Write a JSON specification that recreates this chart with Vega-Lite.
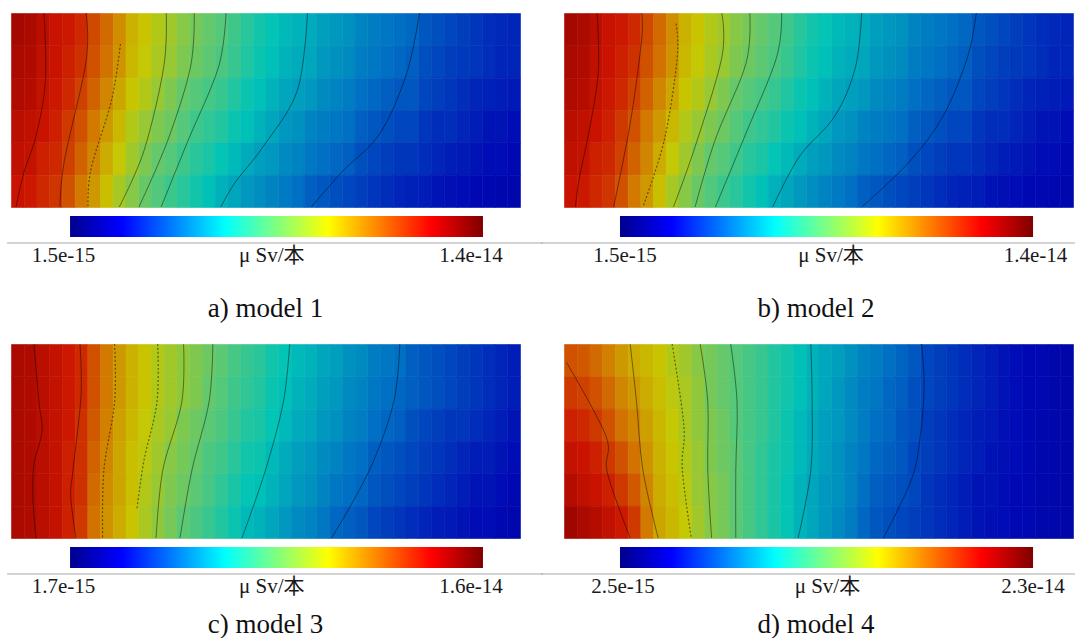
{"$schema":"https://vega.github.io/schema/vega-lite/v6.json","padding":{"left":6,"top":11,"right":0,"bottom":0},"bounds":"flush","columns":2,"spacing":{"row":137,"column":44},"config":{"view":{"stroke":null}},
"datasets":{
"labels":[{"p":"a","lo":"1.5e-15","u":"μ Sv/本","hi":"1.4e-14","cap":"a) model 1"},{"p":"b","lo":"1.5e-15","u":"μ Sv/本","hi":"1.4e-14","cap":"b) model 2"},{"p":"c","lo":"1.7e-15","u":"μ Sv/本","hi":"1.6e-14","cap":"c) model 3"},{"p":"d","lo":"2.5e-15","u":"μ Sv/本","hi":"2.3e-14","cap":"d) model 4"}],
"la":[{"l":1,"x":2.6,"y":0},{"l":1,"x":2.7,"y":2.1},{"l":1,"x":2.0,"y":3.75},{"l":1,"x":1.0,"y":4.95},{"l":1,"x":0.4,"y":6},
{"l":2,"x":5.9,"y":0},{"l":2,"x":5.9,"y":1.5},{"l":2,"x":4.2,"y":4.56},{"l":2,"x":3.85,"y":6},
{"l":3,"x":8.6,"y":0.96},{"l":3,"x":7.9,"y":2.7},{"l":3,"x":6.3,"y":4.8},{"l":3,"x":6.05,"y":6},
{"l":4,"x":12.2,"y":0},{"l":4,"x":12.0,"y":1.68},{"l":4,"x":10.45,"y":4.26},{"l":4,"x":8.5,"y":6},
{"l":5,"x":14.4,"y":0},{"l":5,"x":14.1,"y":1.68},{"l":5,"x":12.3,"y":3.96},{"l":5,"x":10.05,"y":6},
{"l":6,"x":16.9,"y":0},{"l":6,"x":16.3,"y":1.68},{"l":6,"x":13.9,"y":3.96},{"l":6,"x":11.8,"y":6},
{"l":7,"x":23.3,"y":0},{"l":7,"x":22.5,"y":2.4},{"l":7,"x":19.8,"y":4.14},{"l":7,"x":17.6,"y":5.25},{"l":7,"x":16.5,"y":6},
{"l":8,"x":32.1,"y":0},{"l":8,"x":31.1,"y":1.86},{"l":8,"x":29.0,"y":3.72},{"l":8,"x":26.0,"y":4.92},{"l":8,"x":23.6,"y":6}],
"lb":[{"l":1,"x":2.6,"y":0},{"l":1,"x":2.7,"y":1.8},{"l":1,"x":2.0,"y":3.6},{"l":1,"x":1.2,"y":5.1},{"l":1,"x":0.9,"y":6},
{"l":2,"x":6.1,"y":0},{"l":2,"x":6.1,"y":0.84},{"l":2,"x":5.2,"y":3.42},{"l":2,"x":3.9,"y":6},
{"l":3,"x":8.8,"y":0.33},{"l":3,"x":8.9,"y":1.38},{"l":3,"x":7.9,"y":3.9},{"l":3,"x":6.2,"y":6},
{"l":4,"x":12.4,"y":0},{"l":4,"x":12.4,"y":1.38},{"l":4,"x":10.3,"y":4.14},{"l":4,"x":8.6,"y":6},
{"l":5,"x":14.6,"y":0},{"l":5,"x":14.3,"y":1.56},{"l":5,"x":11.9,"y":3.9},{"l":5,"x":10.3,"y":6},
{"l":6,"x":17.1,"y":0},{"l":6,"x":16.7,"y":1.38},{"l":6,"x":14.3,"y":3.72},{"l":6,"x":11.9,"y":6},
{"l":7,"x":23.4,"y":0},{"l":7,"x":22.9,"y":1.68},{"l":7,"x":21.3,"y":3.18},{"l":7,"x":18.5,"y":4.44},{"l":7,"x":16.4,"y":6},
{"l":8,"x":32.4,"y":0},{"l":8,"x":31.7,"y":1.38},{"l":8,"x":29.8,"y":3.18},{"l":8,"x":27.1,"y":4.62},{"l":8,"x":23.4,"y":6}],
"lc":[{"l":1,"x":1.8,"y":0},{"l":1,"x":2.2,"y":1.8},{"l":1,"x":2.44,"y":2.7},{"l":1,"x":1.8,"y":3.72},{"l":1,"x":1.73,"y":4.8},{"l":1,"x":1.96,"y":6},
{"l":2,"x":5.42,"y":0},{"l":2,"x":5.5,"y":1.62},{"l":2,"x":4.87,"y":3.9},{"l":2,"x":4.7,"y":4.74},{"l":2,"x":5.1,"y":6},
{"l":3,"x":8.14,"y":0},{"l":3,"x":8.14,"y":1.8},{"l":3,"x":7.3,"y":3.9},{"l":3,"x":7.2,"y":6},
{"l":4,"x":11.53,"y":0},{"l":4,"x":11.47,"y":1.8},{"l":4,"x":10.45,"y":3.6},{"l":4,"x":9.9,"y":5.1},
{"l":5,"x":13.56,"y":0},{"l":5,"x":13.42,"y":1.8},{"l":5,"x":11.93,"y":3.9},{"l":5,"x":11.4,"y":6},
{"l":6,"x":15.86,"y":0},{"l":6,"x":15.56,"y":1.8},{"l":6,"x":14.22,"y":3.9},{"l":6,"x":13.28,"y":6},
{"l":7,"x":21.9,"y":0},{"l":7,"x":21.4,"y":1.8},{"l":7,"x":20.0,"y":3.9},{"l":7,"x":18.15,"y":6},
{"l":8,"x":30.55,"y":0},{"l":8,"x":30.07,"y":1.8},{"l":8,"x":28.17,"y":3.9},{"l":8,"x":25.2,"y":6}],
"ld":[{"l":1,"x":0.2,"y":0.57},{"l":1,"x":3.3,"y":2.85},{"l":1,"x":3.4,"y":3.975},{"l":1,"x":5.2,"y":6},
{"l":2,"x":5.2,"y":0},{"l":2,"x":5.7,"y":1.8},{"l":2,"x":6.2,"y":3.9},{"l":2,"x":7.4,"y":6},
{"l":3,"x":8.5,"y":0},{"l":3,"x":9.2,"y":1.8},{"l":3,"x":9.45,"y":2.82},{"l":3,"x":9.3,"y":3.9},{"l":3,"x":10.0,"y":6},
{"l":4,"x":10.7,"y":0},{"l":4,"x":11.3,"y":1.8},{"l":4,"x":11.3,"y":3.9},{"l":4,"x":11.6,"y":6},
{"l":5,"x":13.1,"y":0},{"l":5,"x":13.6,"y":1.8},{"l":5,"x":13.5,"y":3.9},{"l":5,"x":13.5,"y":6},
{"l":6,"x":19.4,"y":0},{"l":6,"x":19.5,"y":1.8},{"l":6,"x":19.4,"y":3.9},{"l":6,"x":18.4,"y":6},
{"l":7,"x":28.1,"y":0},{"l":7,"x":28.3,"y":1.29},{"l":7,"x":28.0,"y":2.85},{"l":7,"x":27.3,"y":4.2},{"l":7,"x":25.1,"y":6}],
"ca":[
{"i":0,"j":0,"t":0.95},{"i":0,"j":1,"t":0.94},{"i":0,"j":2,"t":0.93},{"i":0,"j":3,"t":0.91},{"i":0,"j":4,"t":0.9},{"i":0,"j":5,"t":0.88},
{"i":1,"j":0,"t":0.94},{"i":1,"j":1,"t":0.93},{"i":1,"j":2,"t":0.92},{"i":1,"j":3,"t":0.9},{"i":1,"j":4,"t":0.89},{"i":1,"j":5,"t":0.87},
{"i":2,"j":0,"t":0.91},{"i":2,"j":1,"t":0.9},{"i":2,"j":2,"t":0.89},{"i":2,"j":3,"t":0.88},{"i":2,"j":4,"t":0.86},{"i":2,"j":5,"t":0.85},
{"i":3,"j":0,"t":0.88},{"i":3,"j":1,"t":0.88},{"i":3,"j":2,"t":0.87},{"i":3,"j":3,"t":0.86},{"i":3,"j":4,"t":0.85},{"i":3,"j":5,"t":0.835},
{"i":4,"j":0,"t":0.87},{"i":4,"j":1,"t":0.86},{"i":4,"j":2,"t":0.85},{"i":4,"j":3,"t":0.83},{"i":4,"j":4,"t":0.82},{"i":4,"j":5,"t":0.8},
{"i":5,"j":0,"t":0.85},{"i":5,"j":1,"t":0.84},{"i":5,"j":2,"t":0.82},{"i":5,"j":3,"t":0.8},{"i":5,"j":4,"t":0.78},{"i":5,"j":5,"t":0.75},
{"i":6,"j":0,"t":0.81},{"i":6,"j":1,"t":0.8},{"i":6,"j":2,"t":0.78},{"i":6,"j":3,"t":0.75},{"i":6,"j":4,"t":0.73},{"i":6,"j":5,"t":0.7},
{"i":7,"j":0,"t":0.77},{"i":7,"j":1,"t":0.76},{"i":7,"j":2,"t":0.73},{"i":7,"j":3,"t":0.7},{"i":7,"j":4,"t":0.67},{"i":7,"j":5,"t":0.64},
{"i":8,"j":0,"t":0.72},{"i":8,"j":1,"t":0.71},{"i":8,"j":2,"t":0.68},{"i":8,"j":3,"t":0.65},{"i":8,"j":4,"t":0.62},{"i":8,"j":5,"t":0.585},
{"i":9,"j":0,"t":0.66},{"i":9,"j":1,"t":0.65},{"i":9,"j":2,"t":0.63},{"i":9,"j":3,"t":0.6},{"i":9,"j":4,"t":0.58},{"i":9,"j":5,"t":0.55},
{"i":10,"j":0,"t":0.63},{"i":10,"j":1,"t":0.62},{"i":10,"j":2,"t":0.6},{"i":10,"j":3,"t":0.57},{"i":10,"j":4,"t":0.54},{"i":10,"j":5,"t":0.515},
{"i":11,"j":0,"t":0.6},{"i":11,"j":1,"t":0.59},{"i":11,"j":2,"t":0.57},{"i":11,"j":3,"t":0.54},{"i":11,"j":4,"t":0.51},{"i":11,"j":5,"t":0.485},
{"i":12,"j":0,"t":0.58},{"i":12,"j":1,"t":0.57},{"i":12,"j":2,"t":0.54},{"i":12,"j":3,"t":0.52},{"i":12,"j":4,"t":0.49},{"i":12,"j":5,"t":0.455},
{"i":13,"j":0,"t":0.55},{"i":13,"j":1,"t":0.54},{"i":13,"j":2,"t":0.51},{"i":13,"j":3,"t":0.49},{"i":13,"j":4,"t":0.46},{"i":13,"j":5,"t":0.43},
{"i":14,"j":0,"t":0.53},{"i":14,"j":1,"t":0.52},{"i":14,"j":2,"t":0.49},{"i":14,"j":3,"t":0.46},{"i":14,"j":4,"t":0.43},{"i":14,"j":5,"t":0.4},
{"i":15,"j":0,"t":0.51},{"i":15,"j":1,"t":0.5},{"i":15,"j":2,"t":0.47},{"i":15,"j":3,"t":0.44},{"i":15,"j":4,"t":0.41},{"i":15,"j":5,"t":0.37},
{"i":16,"j":0,"t":0.49},{"i":16,"j":1,"t":0.48},{"i":16,"j":2,"t":0.45},{"i":16,"j":3,"t":0.42},{"i":16,"j":4,"t":0.38},{"i":16,"j":5,"t":0.345},
{"i":17,"j":0,"t":0.46},{"i":17,"j":1,"t":0.45},{"i":17,"j":2,"t":0.42},{"i":17,"j":3,"t":0.39},{"i":17,"j":4,"t":0.36},{"i":17,"j":5,"t":0.33},
{"i":18,"j":0,"t":0.43},{"i":18,"j":1,"t":0.42},{"i":18,"j":2,"t":0.39},{"i":18,"j":3,"t":0.37},{"i":18,"j":4,"t":0.34},{"i":18,"j":5,"t":0.31},
{"i":19,"j":0,"t":0.4},{"i":19,"j":1,"t":0.39},{"i":19,"j":2,"t":0.37},{"i":19,"j":3,"t":0.35},{"i":19,"j":4,"t":0.32},{"i":19,"j":5,"t":0.295},
{"i":20,"j":0,"t":0.38},{"i":20,"j":1,"t":0.37},{"i":20,"j":2,"t":0.35},{"i":20,"j":3,"t":0.33},{"i":20,"j":4,"t":0.31},{"i":20,"j":5,"t":0.28},
{"i":21,"j":0,"t":0.36},{"i":21,"j":1,"t":0.35},{"i":21,"j":2,"t":0.33},{"i":21,"j":3,"t":0.31},{"i":21,"j":4,"t":0.29},{"i":21,"j":5,"t":0.265},
{"i":22,"j":0,"t":0.35},{"i":22,"j":1,"t":0.34},{"i":22,"j":2,"t":0.32},{"i":22,"j":3,"t":0.3},{"i":22,"j":4,"t":0.28},{"i":22,"j":5,"t":0.25},
{"i":23,"j":0,"t":0.34},{"i":23,"j":1,"t":0.33},{"i":23,"j":2,"t":0.31},{"i":23,"j":3,"t":0.28},{"i":23,"j":4,"t":0.26},{"i":23,"j":5,"t":0.23},
{"i":24,"j":0,"t":0.32},{"i":24,"j":1,"t":0.31},{"i":24,"j":2,"t":0.29},{"i":24,"j":3,"t":0.27},{"i":24,"j":4,"t":0.25},{"i":24,"j":5,"t":0.22},
{"i":25,"j":0,"t":0.31},{"i":25,"j":1,"t":0.3},{"i":25,"j":2,"t":0.28},{"i":25,"j":3,"t":0.26},{"i":25,"j":4,"t":0.24},{"i":25,"j":5,"t":0.21},
{"i":26,"j":0,"t":0.3},{"i":26,"j":1,"t":0.29},{"i":26,"j":2,"t":0.27},{"i":26,"j":3,"t":0.25},{"i":26,"j":4,"t":0.23},{"i":26,"j":5,"t":0.2},
{"i":27,"j":0,"t":0.28},{"i":27,"j":1,"t":0.27},{"i":27,"j":2,"t":0.25},{"i":27,"j":3,"t":0.23},{"i":27,"j":4,"t":0.21},{"i":27,"j":5,"t":0.19},
{"i":28,"j":0,"t":0.27},{"i":28,"j":1,"t":0.26},{"i":28,"j":2,"t":0.24},{"i":28,"j":3,"t":0.22},{"i":28,"j":4,"t":0.2},{"i":28,"j":5,"t":0.18},
{"i":29,"j":0,"t":0.26},{"i":29,"j":1,"t":0.25},{"i":29,"j":2,"t":0.23},{"i":29,"j":3,"t":0.21},{"i":29,"j":4,"t":0.19},{"i":29,"j":5,"t":0.17},
{"i":30,"j":0,"t":0.25},{"i":30,"j":1,"t":0.24},{"i":30,"j":2,"t":0.22},{"i":30,"j":3,"t":0.2},{"i":30,"j":4,"t":0.18},{"i":30,"j":5,"t":0.16},
{"i":31,"j":0,"t":0.24},{"i":31,"j":1,"t":0.23},{"i":31,"j":2,"t":0.22},{"i":31,"j":3,"t":0.2},{"i":31,"j":4,"t":0.18},{"i":31,"j":5,"t":0.155},
{"i":32,"j":0,"t":0.22},{"i":32,"j":1,"t":0.21},{"i":32,"j":2,"t":0.2},{"i":32,"j":3,"t":0.18},{"i":32,"j":4,"t":0.17},{"i":32,"j":5,"t":0.15},
{"i":33,"j":0,"t":0.21},{"i":33,"j":1,"t":0.2},{"i":33,"j":2,"t":0.19},{"i":33,"j":3,"t":0.17},{"i":33,"j":4,"t":0.16},{"i":33,"j":5,"t":0.14},
{"i":34,"j":0,"t":0.2},{"i":34,"j":1,"t":0.19},{"i":34,"j":2,"t":0.18},{"i":34,"j":3,"t":0.17},{"i":34,"j":4,"t":0.15},{"i":34,"j":5,"t":0.135},
{"i":35,"j":0,"t":0.19},{"i":35,"j":1,"t":0.185},{"i":35,"j":2,"t":0.17},{"i":35,"j":3,"t":0.16},{"i":35,"j":4,"t":0.145},{"i":35,"j":5,"t":0.13},
{"i":36,"j":0,"t":0.18},{"i":36,"j":1,"t":0.18},{"i":36,"j":2,"t":0.16},{"i":36,"j":3,"t":0.15},{"i":36,"j":4,"t":0.14},{"i":36,"j":5,"t":0.125},
{"i":37,"j":0,"t":0.17},{"i":37,"j":1,"t":0.17},{"i":37,"j":2,"t":0.155},{"i":37,"j":3,"t":0.14},{"i":37,"j":4,"t":0.13},{"i":37,"j":5,"t":0.12},
{"i":38,"j":0,"t":0.165},{"i":38,"j":1,"t":0.16},{"i":38,"j":2,"t":0.15},{"i":38,"j":3,"t":0.14},{"i":38,"j":4,"t":0.13},{"i":38,"j":5,"t":0.115},
{"i":39,"j":0,"t":0.16},{"i":39,"j":1,"t":0.16},{"i":39,"j":2,"t":0.145},{"i":39,"j":3,"t":0.13},{"i":39,"j":4,"t":0.12},{"i":39,"j":5,"t":0.11}],
"cb":[
{"i":0,"j":0,"t":0.95},{"i":0,"j":1,"t":0.94},{"i":0,"j":2,"t":0.93},{"i":0,"j":3,"t":0.91},{"i":0,"j":4,"t":0.9},{"i":0,"j":5,"t":0.88},
{"i":1,"j":0,"t":0.94},{"i":1,"j":1,"t":0.93},{"i":1,"j":2,"t":0.92},{"i":1,"j":3,"t":0.9},{"i":1,"j":4,"t":0.89},{"i":1,"j":5,"t":0.87},
{"i":2,"j":0,"t":0.91},{"i":2,"j":1,"t":0.9},{"i":2,"j":2,"t":0.89},{"i":2,"j":3,"t":0.88},{"i":2,"j":4,"t":0.86},{"i":2,"j":5,"t":0.85},
{"i":3,"j":0,"t":0.88},{"i":3,"j":1,"t":0.88},{"i":3,"j":2,"t":0.87},{"i":3,"j":3,"t":0.86},{"i":3,"j":4,"t":0.85},{"i":3,"j":5,"t":0.835},
{"i":4,"j":0,"t":0.87},{"i":4,"j":1,"t":0.86},{"i":4,"j":2,"t":0.85},{"i":4,"j":3,"t":0.83},{"i":4,"j":4,"t":0.82},{"i":4,"j":5,"t":0.8},
{"i":5,"j":0,"t":0.85},{"i":5,"j":1,"t":0.84},{"i":5,"j":2,"t":0.82},{"i":5,"j":3,"t":0.8},{"i":5,"j":4,"t":0.78},{"i":5,"j":5,"t":0.75},
{"i":6,"j":0,"t":0.81},{"i":6,"j":1,"t":0.8},{"i":6,"j":2,"t":0.78},{"i":6,"j":3,"t":0.75},{"i":6,"j":4,"t":0.73},{"i":6,"j":5,"t":0.7},
{"i":7,"j":0,"t":0.77},{"i":7,"j":1,"t":0.76},{"i":7,"j":2,"t":0.73},{"i":7,"j":3,"t":0.7},{"i":7,"j":4,"t":0.67},{"i":7,"j":5,"t":0.64},
{"i":8,"j":0,"t":0.72},{"i":8,"j":1,"t":0.71},{"i":8,"j":2,"t":0.68},{"i":8,"j":3,"t":0.65},{"i":8,"j":4,"t":0.62},{"i":8,"j":5,"t":0.585},
{"i":9,"j":0,"t":0.66},{"i":9,"j":1,"t":0.65},{"i":9,"j":2,"t":0.63},{"i":9,"j":3,"t":0.6},{"i":9,"j":4,"t":0.58},{"i":9,"j":5,"t":0.55},
{"i":10,"j":0,"t":0.63},{"i":10,"j":1,"t":0.62},{"i":10,"j":2,"t":0.6},{"i":10,"j":3,"t":0.57},{"i":10,"j":4,"t":0.54},{"i":10,"j":5,"t":0.515},
{"i":11,"j":0,"t":0.6},{"i":11,"j":1,"t":0.59},{"i":11,"j":2,"t":0.57},{"i":11,"j":3,"t":0.54},{"i":11,"j":4,"t":0.51},{"i":11,"j":5,"t":0.485},
{"i":12,"j":0,"t":0.58},{"i":12,"j":1,"t":0.57},{"i":12,"j":2,"t":0.54},{"i":12,"j":3,"t":0.52},{"i":12,"j":4,"t":0.49},{"i":12,"j":5,"t":0.455},
{"i":13,"j":0,"t":0.55},{"i":13,"j":1,"t":0.54},{"i":13,"j":2,"t":0.51},{"i":13,"j":3,"t":0.49},{"i":13,"j":4,"t":0.46},{"i":13,"j":5,"t":0.43},
{"i":14,"j":0,"t":0.53},{"i":14,"j":1,"t":0.52},{"i":14,"j":2,"t":0.49},{"i":14,"j":3,"t":0.46},{"i":14,"j":4,"t":0.43},{"i":14,"j":5,"t":0.4},
{"i":15,"j":0,"t":0.51},{"i":15,"j":1,"t":0.5},{"i":15,"j":2,"t":0.47},{"i":15,"j":3,"t":0.44},{"i":15,"j":4,"t":0.41},{"i":15,"j":5,"t":0.37},
{"i":16,"j":0,"t":0.49},{"i":16,"j":1,"t":0.48},{"i":16,"j":2,"t":0.45},{"i":16,"j":3,"t":0.42},{"i":16,"j":4,"t":0.38},{"i":16,"j":5,"t":0.345},
{"i":17,"j":0,"t":0.46},{"i":17,"j":1,"t":0.45},{"i":17,"j":2,"t":0.42},{"i":17,"j":3,"t":0.39},{"i":17,"j":4,"t":0.36},{"i":17,"j":5,"t":0.33},
{"i":18,"j":0,"t":0.43},{"i":18,"j":1,"t":0.42},{"i":18,"j":2,"t":0.39},{"i":18,"j":3,"t":0.37},{"i":18,"j":4,"t":0.34},{"i":18,"j":5,"t":0.31},
{"i":19,"j":0,"t":0.4},{"i":19,"j":1,"t":0.39},{"i":19,"j":2,"t":0.37},{"i":19,"j":3,"t":0.35},{"i":19,"j":4,"t":0.32},{"i":19,"j":5,"t":0.295},
{"i":20,"j":0,"t":0.38},{"i":20,"j":1,"t":0.37},{"i":20,"j":2,"t":0.35},{"i":20,"j":3,"t":0.33},{"i":20,"j":4,"t":0.31},{"i":20,"j":5,"t":0.28},
{"i":21,"j":0,"t":0.36},{"i":21,"j":1,"t":0.35},{"i":21,"j":2,"t":0.33},{"i":21,"j":3,"t":0.31},{"i":21,"j":4,"t":0.29},{"i":21,"j":5,"t":0.265},
{"i":22,"j":0,"t":0.35},{"i":22,"j":1,"t":0.34},{"i":22,"j":2,"t":0.32},{"i":22,"j":3,"t":0.3},{"i":22,"j":4,"t":0.28},{"i":22,"j":5,"t":0.25},
{"i":23,"j":0,"t":0.34},{"i":23,"j":1,"t":0.33},{"i":23,"j":2,"t":0.31},{"i":23,"j":3,"t":0.28},{"i":23,"j":4,"t":0.26},{"i":23,"j":5,"t":0.23},
{"i":24,"j":0,"t":0.32},{"i":24,"j":1,"t":0.31},{"i":24,"j":2,"t":0.29},{"i":24,"j":3,"t":0.27},{"i":24,"j":4,"t":0.25},{"i":24,"j":5,"t":0.22},
{"i":25,"j":0,"t":0.31},{"i":25,"j":1,"t":0.3},{"i":25,"j":2,"t":0.28},{"i":25,"j":3,"t":0.26},{"i":25,"j":4,"t":0.24},{"i":25,"j":5,"t":0.21},
{"i":26,"j":0,"t":0.3},{"i":26,"j":1,"t":0.29},{"i":26,"j":2,"t":0.27},{"i":26,"j":3,"t":0.25},{"i":26,"j":4,"t":0.23},{"i":26,"j":5,"t":0.2},
{"i":27,"j":0,"t":0.28},{"i":27,"j":1,"t":0.27},{"i":27,"j":2,"t":0.25},{"i":27,"j":3,"t":0.23},{"i":27,"j":4,"t":0.21},{"i":27,"j":5,"t":0.19},
{"i":28,"j":0,"t":0.27},{"i":28,"j":1,"t":0.26},{"i":28,"j":2,"t":0.24},{"i":28,"j":3,"t":0.22},{"i":28,"j":4,"t":0.2},{"i":28,"j":5,"t":0.18},
{"i":29,"j":0,"t":0.26},{"i":29,"j":1,"t":0.25},{"i":29,"j":2,"t":0.23},{"i":29,"j":3,"t":0.21},{"i":29,"j":4,"t":0.19},{"i":29,"j":5,"t":0.17},
{"i":30,"j":0,"t":0.25},{"i":30,"j":1,"t":0.24},{"i":30,"j":2,"t":0.22},{"i":30,"j":3,"t":0.2},{"i":30,"j":4,"t":0.18},{"i":30,"j":5,"t":0.16},
{"i":31,"j":0,"t":0.24},{"i":31,"j":1,"t":0.23},{"i":31,"j":2,"t":0.22},{"i":31,"j":3,"t":0.2},{"i":31,"j":4,"t":0.18},{"i":31,"j":5,"t":0.155},
{"i":32,"j":0,"t":0.22},{"i":32,"j":1,"t":0.21},{"i":32,"j":2,"t":0.2},{"i":32,"j":3,"t":0.18},{"i":32,"j":4,"t":0.17},{"i":32,"j":5,"t":0.15},
{"i":33,"j":0,"t":0.21},{"i":33,"j":1,"t":0.2},{"i":33,"j":2,"t":0.19},{"i":33,"j":3,"t":0.17},{"i":33,"j":4,"t":0.16},{"i":33,"j":5,"t":0.14},
{"i":34,"j":0,"t":0.2},{"i":34,"j":1,"t":0.19},{"i":34,"j":2,"t":0.18},{"i":34,"j":3,"t":0.17},{"i":34,"j":4,"t":0.15},{"i":34,"j":5,"t":0.135},
{"i":35,"j":0,"t":0.19},{"i":35,"j":1,"t":0.185},{"i":35,"j":2,"t":0.17},{"i":35,"j":3,"t":0.16},{"i":35,"j":4,"t":0.145},{"i":35,"j":5,"t":0.13},
{"i":36,"j":0,"t":0.18},{"i":36,"j":1,"t":0.18},{"i":36,"j":2,"t":0.16},{"i":36,"j":3,"t":0.15},{"i":36,"j":4,"t":0.14},{"i":36,"j":5,"t":0.125},
{"i":37,"j":0,"t":0.17},{"i":37,"j":1,"t":0.17},{"i":37,"j":2,"t":0.155},{"i":37,"j":3,"t":0.14},{"i":37,"j":4,"t":0.13},{"i":37,"j":5,"t":0.12},
{"i":38,"j":0,"t":0.165},{"i":38,"j":1,"t":0.16},{"i":38,"j":2,"t":0.15},{"i":38,"j":3,"t":0.14},{"i":38,"j":4,"t":0.13},{"i":38,"j":5,"t":0.115},
{"i":39,"j":0,"t":0.16},{"i":39,"j":1,"t":0.16},{"i":39,"j":2,"t":0.145},{"i":39,"j":3,"t":0.13},{"i":39,"j":4,"t":0.12},{"i":39,"j":5,"t":0.11}],
"cc":[
{"i":0,"j":0,"t":0.94},{"i":0,"j":1,"t":0.94},{"i":0,"j":2,"t":0.94},{"i":0,"j":3,"t":0.94},{"i":0,"j":4,"t":0.94},{"i":0,"j":5,"t":0.94},
{"i":1,"j":0,"t":0.93},{"i":1,"j":1,"t":0.93},{"i":1,"j":2,"t":0.93},{"i":1,"j":3,"t":0.93},{"i":1,"j":4,"t":0.93},{"i":1,"j":5,"t":0.93},
{"i":2,"j":0,"t":0.91},{"i":2,"j":1,"t":0.91},{"i":2,"j":2,"t":0.91},{"i":2,"j":3,"t":0.91},{"i":2,"j":4,"t":0.91},{"i":2,"j":5,"t":0.91},
{"i":3,"j":0,"t":0.89},{"i":3,"j":1,"t":0.89},{"i":3,"j":2,"t":0.89},{"i":3,"j":3,"t":0.89},{"i":3,"j":4,"t":0.89},{"i":3,"j":5,"t":0.89},
{"i":4,"j":0,"t":0.87},{"i":4,"j":1,"t":0.87},{"i":4,"j":2,"t":0.87},{"i":4,"j":3,"t":0.86},{"i":4,"j":4,"t":0.86},{"i":4,"j":5,"t":0.86},
{"i":5,"j":0,"t":0.85},{"i":5,"j":1,"t":0.85},{"i":5,"j":2,"t":0.84},{"i":5,"j":3,"t":0.84},{"i":5,"j":4,"t":0.84},{"i":5,"j":5,"t":0.83},
{"i":6,"j":0,"t":0.8},{"i":6,"j":1,"t":0.8},{"i":6,"j":2,"t":0.79},{"i":6,"j":3,"t":0.78},{"i":6,"j":4,"t":0.77},{"i":6,"j":5,"t":0.76},
{"i":7,"j":0,"t":0.75},{"i":7,"j":1,"t":0.75},{"i":7,"j":2,"t":0.74},{"i":7,"j":3,"t":0.73},{"i":7,"j":4,"t":0.72},{"i":7,"j":5,"t":0.71},
{"i":8,"j":0,"t":0.7},{"i":8,"j":1,"t":0.7},{"i":8,"j":2,"t":0.69},{"i":8,"j":3,"t":0.68},{"i":8,"j":4,"t":0.68},{"i":8,"j":5,"t":0.67},
{"i":9,"j":0,"t":0.66},{"i":9,"j":1,"t":0.66},{"i":9,"j":2,"t":0.65},{"i":9,"j":3,"t":0.64},{"i":9,"j":4,"t":0.64},{"i":9,"j":5,"t":0.63},
{"i":10,"j":0,"t":0.63},{"i":10,"j":1,"t":0.63},{"i":10,"j":2,"t":0.62},{"i":10,"j":3,"t":0.61},{"i":10,"j":4,"t":0.6},{"i":10,"j":5,"t":0.59},
{"i":11,"j":0,"t":0.6},{"i":11,"j":1,"t":0.6},{"i":11,"j":2,"t":0.59},{"i":11,"j":3,"t":0.58},{"i":11,"j":4,"t":0.57},{"i":11,"j":5,"t":0.56},
{"i":12,"j":0,"t":0.58},{"i":12,"j":1,"t":0.58},{"i":12,"j":2,"t":0.57},{"i":12,"j":3,"t":0.55},{"i":12,"j":4,"t":0.54},{"i":12,"j":5,"t":0.53},
{"i":13,"j":0,"t":0.56},{"i":13,"j":1,"t":0.56},{"i":13,"j":2,"t":0.54},{"i":13,"j":3,"t":0.53},{"i":13,"j":4,"t":0.52},{"i":13,"j":5,"t":0.5},
{"i":14,"j":0,"t":0.54},{"i":14,"j":1,"t":0.54},{"i":14,"j":2,"t":0.52},{"i":14,"j":3,"t":0.51},{"i":14,"j":4,"t":0.5},{"i":14,"j":5,"t":0.48},
{"i":15,"j":0,"t":0.52},{"i":15,"j":1,"t":0.51},{"i":15,"j":2,"t":0.5},{"i":15,"j":3,"t":0.48},{"i":15,"j":4,"t":0.47},{"i":15,"j":5,"t":0.45},
{"i":16,"j":0,"t":0.5},{"i":16,"j":1,"t":0.49},{"i":16,"j":2,"t":0.48},{"i":16,"j":3,"t":0.46},{"i":16,"j":4,"t":0.44},{"i":16,"j":5,"t":0.42},
{"i":17,"j":0,"t":0.47},{"i":17,"j":1,"t":0.46},{"i":17,"j":2,"t":0.45},{"i":17,"j":3,"t":0.43},{"i":17,"j":4,"t":0.41},{"i":17,"j":5,"t":0.39},
{"i":18,"j":0,"t":0.45},{"i":18,"j":1,"t":0.44},{"i":18,"j":2,"t":0.42},{"i":18,"j":3,"t":0.4},{"i":18,"j":4,"t":0.38},{"i":18,"j":5,"t":0.36},
{"i":19,"j":0,"t":0.43},{"i":19,"j":1,"t":0.42},{"i":19,"j":2,"t":0.41},{"i":19,"j":3,"t":0.39},{"i":19,"j":4,"t":0.37},{"i":19,"j":5,"t":0.35},
{"i":20,"j":0,"t":0.4},{"i":20,"j":1,"t":0.39},{"i":20,"j":2,"t":0.38},{"i":20,"j":3,"t":0.36},{"i":20,"j":4,"t":0.35},{"i":20,"j":5,"t":0.33},
{"i":21,"j":0,"t":0.38},{"i":21,"j":1,"t":0.37},{"i":21,"j":2,"t":0.36},{"i":21,"j":3,"t":0.34},{"i":21,"j":4,"t":0.33},{"i":21,"j":5,"t":0.31},
{"i":22,"j":0,"t":0.36},{"i":22,"j":1,"t":0.35},{"i":22,"j":2,"t":0.34},{"i":22,"j":3,"t":0.32},{"i":22,"j":4,"t":0.31},{"i":22,"j":5,"t":0.29},
{"i":23,"j":0,"t":0.35},{"i":23,"j":1,"t":0.34},{"i":23,"j":2,"t":0.33},{"i":23,"j":3,"t":0.31},{"i":23,"j":4,"t":0.3},{"i":23,"j":5,"t":0.28},
{"i":24,"j":0,"t":0.33},{"i":24,"j":1,"t":0.32},{"i":24,"j":2,"t":0.31},{"i":24,"j":3,"t":0.29},{"i":24,"j":4,"t":0.28},{"i":24,"j":5,"t":0.26},
{"i":25,"j":0,"t":0.32},{"i":25,"j":1,"t":0.31},{"i":25,"j":2,"t":0.3},{"i":25,"j":3,"t":0.28},{"i":25,"j":4,"t":0.26},{"i":25,"j":5,"t":0.24},
{"i":26,"j":0,"t":0.3},{"i":26,"j":1,"t":0.29},{"i":26,"j":2,"t":0.28},{"i":26,"j":3,"t":0.26},{"i":26,"j":4,"t":0.25},{"i":26,"j":5,"t":0.23},
{"i":27,"j":0,"t":0.29},{"i":27,"j":1,"t":0.28},{"i":27,"j":2,"t":0.27},{"i":27,"j":3,"t":0.25},{"i":27,"j":4,"t":0.24},{"i":27,"j":5,"t":0.22},
{"i":28,"j":0,"t":0.27},{"i":28,"j":1,"t":0.26},{"i":28,"j":2,"t":0.25},{"i":28,"j":3,"t":0.23},{"i":28,"j":4,"t":0.22},{"i":28,"j":5,"t":0.2},
{"i":29,"j":0,"t":0.26},{"i":29,"j":1,"t":0.25},{"i":29,"j":2,"t":0.24},{"i":29,"j":3,"t":0.22},{"i":29,"j":4,"t":0.21},{"i":29,"j":5,"t":0.19},
{"i":30,"j":0,"t":0.25},{"i":30,"j":1,"t":0.24},{"i":30,"j":2,"t":0.23},{"i":30,"j":3,"t":0.21},{"i":30,"j":4,"t":0.2},{"i":30,"j":5,"t":0.18},
{"i":31,"j":0,"t":0.23},{"i":31,"j":1,"t":0.23},{"i":31,"j":2,"t":0.21},{"i":31,"j":3,"t":0.2},{"i":31,"j":4,"t":0.19},{"i":31,"j":5,"t":0.17},
{"i":32,"j":0,"t":0.22},{"i":32,"j":1,"t":0.22},{"i":32,"j":2,"t":0.2},{"i":32,"j":3,"t":0.19},{"i":32,"j":4,"t":0.18},{"i":32,"j":5,"t":0.16},
{"i":33,"j":0,"t":0.21},{"i":33,"j":1,"t":0.21},{"i":33,"j":2,"t":0.19},{"i":33,"j":3,"t":0.18},{"i":33,"j":4,"t":0.17},{"i":33,"j":5,"t":0.15},
{"i":34,"j":0,"t":0.2},{"i":34,"j":1,"t":0.2},{"i":34,"j":2,"t":0.18},{"i":34,"j":3,"t":0.17},{"i":34,"j":4,"t":0.16},{"i":34,"j":5,"t":0.145},
{"i":35,"j":0,"t":0.19},{"i":35,"j":1,"t":0.19},{"i":35,"j":2,"t":0.18},{"i":35,"j":3,"t":0.16},{"i":35,"j":4,"t":0.15},{"i":35,"j":5,"t":0.14},
{"i":36,"j":0,"t":0.18},{"i":36,"j":1,"t":0.18},{"i":36,"j":2,"t":0.17},{"i":36,"j":3,"t":0.15},{"i":36,"j":4,"t":0.14},{"i":36,"j":5,"t":0.13},
{"i":37,"j":0,"t":0.17},{"i":37,"j":1,"t":0.17},{"i":37,"j":2,"t":0.16},{"i":37,"j":3,"t":0.15},{"i":37,"j":4,"t":0.14},{"i":37,"j":5,"t":0.13},
{"i":38,"j":0,"t":0.16},{"i":38,"j":1,"t":0.16},{"i":38,"j":2,"t":0.15},{"i":38,"j":3,"t":0.14},{"i":38,"j":4,"t":0.13},{"i":38,"j":5,"t":0.12},
{"i":39,"j":0,"t":0.15},{"i":39,"j":1,"t":0.15},{"i":39,"j":2,"t":0.14},{"i":39,"j":3,"t":0.13},{"i":39,"j":4,"t":0.12},{"i":39,"j":5,"t":0.11}],
"cd":[
{"i":0,"j":0,"t":0.8},{"i":0,"j":1,"t":0.83},{"i":0,"j":2,"t":0.86},{"i":0,"j":3,"t":0.89},{"i":0,"j":4,"t":0.92},{"i":0,"j":5,"t":0.96},
{"i":1,"j":0,"t":0.79},{"i":1,"j":1,"t":0.82},{"i":1,"j":2,"t":0.85},{"i":1,"j":3,"t":0.88},{"i":1,"j":4,"t":0.9},{"i":1,"j":5,"t":0.94},
{"i":2,"j":0,"t":0.77},{"i":2,"j":1,"t":0.8},{"i":2,"j":2,"t":0.83},{"i":2,"j":3,"t":0.86},{"i":2,"j":4,"t":0.88},{"i":2,"j":5,"t":0.92},
{"i":3,"j":0,"t":0.74},{"i":3,"j":1,"t":0.77},{"i":3,"j":2,"t":0.8},{"i":3,"j":3,"t":0.83},{"i":3,"j":4,"t":0.86},{"i":3,"j":5,"t":0.895},
{"i":4,"j":0,"t":0.7},{"i":4,"j":1,"t":0.73},{"i":4,"j":2,"t":0.76},{"i":4,"j":3,"t":0.8},{"i":4,"j":4,"t":0.83},{"i":4,"j":5,"t":0.87},
{"i":5,"j":0,"t":0.67},{"i":5,"j":1,"t":0.7},{"i":5,"j":2,"t":0.73},{"i":5,"j":3,"t":0.76},{"i":5,"j":4,"t":0.79},{"i":5,"j":5,"t":0.83},
{"i":6,"j":0,"t":0.65},{"i":6,"j":1,"t":0.67},{"i":6,"j":2,"t":0.69},{"i":6,"j":3,"t":0.71},{"i":6,"j":4,"t":0.73},{"i":6,"j":5,"t":0.75},
{"i":7,"j":0,"t":0.63},{"i":7,"j":1,"t":0.64},{"i":7,"j":2,"t":0.65},{"i":7,"j":3,"t":0.66},{"i":7,"j":4,"t":0.67},{"i":7,"j":5,"t":0.68},
{"i":8,"j":0,"t":0.6},{"i":8,"j":1,"t":0.61},{"i":8,"j":2,"t":0.62},{"i":8,"j":3,"t":0.63},{"i":8,"j":4,"t":0.64},{"i":8,"j":5,"t":0.65},
{"i":9,"j":0,"t":0.58},{"i":9,"j":1,"t":0.59},{"i":9,"j":2,"t":0.59},{"i":9,"j":3,"t":0.6},{"i":9,"j":4,"t":0.61},{"i":9,"j":5,"t":0.62},
{"i":10,"j":0,"t":0.55},{"i":10,"j":1,"t":0.56},{"i":10,"j":2,"t":0.56},{"i":10,"j":3,"t":0.57},{"i":10,"j":4,"t":0.57},{"i":10,"j":5,"t":0.58},
{"i":11,"j":0,"t":0.53},{"i":11,"j":1,"t":0.53},{"i":11,"j":2,"t":0.54},{"i":11,"j":3,"t":0.54},{"i":11,"j":4,"t":0.55},{"i":11,"j":5,"t":0.55},
{"i":12,"j":0,"t":0.51},{"i":12,"j":1,"t":0.51},{"i":12,"j":2,"t":0.52},{"i":12,"j":3,"t":0.52},{"i":12,"j":4,"t":0.53},{"i":12,"j":5,"t":0.53},
{"i":13,"j":0,"t":0.49},{"i":13,"j":1,"t":0.49},{"i":13,"j":2,"t":0.49},{"i":13,"j":3,"t":0.5},{"i":13,"j":4,"t":0.5},{"i":13,"j":5,"t":0.5},
{"i":14,"j":0,"t":0.47},{"i":14,"j":1,"t":0.47},{"i":14,"j":2,"t":0.47},{"i":14,"j":3,"t":0.47},{"i":14,"j":4,"t":0.47},{"i":14,"j":5,"t":0.47},
{"i":15,"j":0,"t":0.45},{"i":15,"j":1,"t":0.45},{"i":15,"j":2,"t":0.45},{"i":15,"j":3,"t":0.44},{"i":15,"j":4,"t":0.44},{"i":15,"j":5,"t":0.44},
{"i":16,"j":0,"t":0.42},{"i":16,"j":1,"t":0.42},{"i":16,"j":2,"t":0.42},{"i":16,"j":3,"t":0.41},{"i":16,"j":4,"t":0.41},{"i":16,"j":5,"t":0.41},
{"i":17,"j":0,"t":0.4},{"i":17,"j":1,"t":0.4},{"i":17,"j":2,"t":0.39},{"i":17,"j":3,"t":0.39},{"i":17,"j":4,"t":0.38},{"i":17,"j":5,"t":0.38},
{"i":18,"j":0,"t":0.37},{"i":18,"j":1,"t":0.37},{"i":18,"j":2,"t":0.36},{"i":18,"j":3,"t":0.36},{"i":18,"j":4,"t":0.35},{"i":18,"j":5,"t":0.35},
{"i":19,"j":0,"t":0.35},{"i":19,"j":1,"t":0.35},{"i":19,"j":2,"t":0.34},{"i":19,"j":3,"t":0.34},{"i":19,"j":4,"t":0.33},{"i":19,"j":5,"t":0.33},
{"i":20,"j":0,"t":0.33},{"i":20,"j":1,"t":0.33},{"i":20,"j":2,"t":0.32},{"i":20,"j":3,"t":0.32},{"i":20,"j":4,"t":0.31},{"i":20,"j":5,"t":0.31},
{"i":21,"j":0,"t":0.32},{"i":21,"j":1,"t":0.31},{"i":21,"j":2,"t":0.31},{"i":21,"j":3,"t":0.3},{"i":21,"j":4,"t":0.3},{"i":21,"j":5,"t":0.29},
{"i":22,"j":0,"t":0.3},{"i":22,"j":1,"t":0.29},{"i":22,"j":2,"t":0.29},{"i":22,"j":3,"t":0.28},{"i":22,"j":4,"t":0.28},{"i":22,"j":5,"t":0.27},
{"i":23,"j":0,"t":0.28},{"i":23,"j":1,"t":0.27},{"i":23,"j":2,"t":0.27},{"i":23,"j":3,"t":0.26},{"i":23,"j":4,"t":0.25},{"i":23,"j":5,"t":0.24},
{"i":24,"j":0,"t":0.27},{"i":24,"j":1,"t":0.26},{"i":24,"j":2,"t":0.25},{"i":24,"j":3,"t":0.24},{"i":24,"j":4,"t":0.23},{"i":24,"j":5,"t":0.22},
{"i":25,"j":0,"t":0.25},{"i":25,"j":1,"t":0.24},{"i":25,"j":2,"t":0.24},{"i":25,"j":3,"t":0.23},{"i":25,"j":4,"t":0.22},{"i":25,"j":5,"t":0.21},
{"i":26,"j":0,"t":0.235},{"i":26,"j":1,"t":0.23},{"i":26,"j":2,"t":0.22},{"i":26,"j":3,"t":0.22},{"i":26,"j":4,"t":0.21},{"i":26,"j":5,"t":0.2},
{"i":27,"j":0,"t":0.22},{"i":27,"j":1,"t":0.21},{"i":27,"j":2,"t":0.21},{"i":27,"j":3,"t":0.2},{"i":27,"j":4,"t":0.2},{"i":27,"j":5,"t":0.19},
{"i":28,"j":0,"t":0.2},{"i":28,"j":1,"t":0.2},{"i":28,"j":2,"t":0.19},{"i":28,"j":3,"t":0.19},{"i":28,"j":4,"t":0.18},{"i":28,"j":5,"t":0.18},
{"i":29,"j":0,"t":0.19},{"i":29,"j":1,"t":0.19},{"i":29,"j":2,"t":0.18},{"i":29,"j":3,"t":0.18},{"i":29,"j":4,"t":0.17},{"i":29,"j":5,"t":0.17},
{"i":30,"j":0,"t":0.18},{"i":30,"j":1,"t":0.18},{"i":30,"j":2,"t":0.17},{"i":30,"j":3,"t":0.17},{"i":30,"j":4,"t":0.16},{"i":30,"j":5,"t":0.16},
{"i":31,"j":0,"t":0.17},{"i":31,"j":1,"t":0.17},{"i":31,"j":2,"t":0.16},{"i":31,"j":3,"t":0.16},{"i":31,"j":4,"t":0.15},{"i":31,"j":5,"t":0.15},
{"i":32,"j":0,"t":0.16},{"i":32,"j":1,"t":0.16},{"i":32,"j":2,"t":0.15},{"i":32,"j":3,"t":0.15},{"i":32,"j":4,"t":0.14},{"i":32,"j":5,"t":0.14},
{"i":33,"j":0,"t":0.15},{"i":33,"j":1,"t":0.15},{"i":33,"j":2,"t":0.145},{"i":33,"j":3,"t":0.14},{"i":33,"j":4,"t":0.14},{"i":33,"j":5,"t":0.135},
{"i":34,"j":0,"t":0.14},{"i":34,"j":1,"t":0.14},{"i":34,"j":2,"t":0.135},{"i":34,"j":3,"t":0.135},{"i":34,"j":4,"t":0.13},{"i":34,"j":5,"t":0.13},
{"i":35,"j":0,"t":0.13},{"i":35,"j":1,"t":0.13},{"i":35,"j":2,"t":0.13},{"i":35,"j":3,"t":0.13},{"i":35,"j":4,"t":0.125},{"i":35,"j":5,"t":0.125},
{"i":36,"j":0,"t":0.125},{"i":36,"j":1,"t":0.125},{"i":36,"j":2,"t":0.12},{"i":36,"j":3,"t":0.12},{"i":36,"j":4,"t":0.12},{"i":36,"j":5,"t":0.12},
{"i":37,"j":0,"t":0.12},{"i":37,"j":1,"t":0.12},{"i":37,"j":2,"t":0.115},{"i":37,"j":3,"t":0.115},{"i":37,"j":4,"t":0.11},{"i":37,"j":5,"t":0.11},
{"i":38,"j":0,"t":0.11},{"i":38,"j":1,"t":0.11},{"i":38,"j":2,"t":0.11},{"i":38,"j":3,"t":0.11},{"i":38,"j":4,"t":0.11},{"i":38,"j":5,"t":0.11},
{"i":39,"j":0,"t":0.1},{"i":39,"j":1,"t":0.1},{"i":39,"j":2,"t":0.1},{"i":39,"j":3,"t":0.1},{"i":39,"j":4,"t":0.1},{"i":39,"j":5,"t":0.1}]
},
"concat":[
{"width":509,"height":194,"layer":[
{"data":{"name":"ca"},"mark":{"type":"rect","strokeWidth":0.6},"encoding":{"x":{"field":"i","type":"quantitative","bin":{"extent":[0,40],"step":1},"scale":{"domain":[0,40]},"axis":null},"y":{"field":"j","type":"quantitative","bin":{"extent":[0,6],"step":1},"scale":{"domain":[0,6],"reverse":true},"axis":null},"color":{"field":"t","type":"quantitative","scale":{"type":"linear","domain":[0,0.125,0.25,0.375,0.5,0.625,0.75,0.875,1],"range":["#000078","#0008b4","#0070c4","#00c4b8","#5cc874","#c8c800","#d27a00","#cc1400","#8a0000"],"interpolate":"rgb"},"legend":null},"stroke":{"field":"t","type":"quantitative","scale":{"type":"linear","domain":[0,0.125,0.25,0.375,0.5,0.625,0.75,0.875,1],"range":["#000078","#0008b4","#0070c4","#00c4b8","#5cc874","#c8c800","#d27a00","#cc1400","#8a0000"],"interpolate":"rgb"},"legend":null}}},
{"data":{"name":"la"},"transform":[{"filter":"datum.l!==3"}],"mark":{"type":"line","interpolate":"cardinal","color":"#000000","strokeWidth":1,"opacity":0.45},"encoding":{"x":{"field":"x","type":"quantitative","scale":{"domain":[0,40]},"axis":null},"y":{"field":"y","type":"quantitative","scale":{"domain":[0,6],"reverse":true},"axis":null},"detail":{"field":"l","type":"nominal"},"order":{"field":"y","type":"quantitative"}}},
{"data":{"name":"la"},"transform":[{"filter":"datum.l===3"}],"mark":{"type":"line","interpolate":"cardinal","color":"#000000","strokeWidth":1.2,"opacity":0.5,"strokeDash":[2,2]},"encoding":{"x":{"field":"x","type":"quantitative","scale":{"domain":[0,40]},"axis":null},"y":{"field":"y","type":"quantitative","scale":{"domain":[0,6],"reverse":true},"axis":null},"detail":{"field":"l","type":"nominal"},"order":{"field":"y","type":"quantitative"}}},
{"data":{"name":"labels"},"transform":[{"filter":"datum.p==='a'"}],"mark":{"type":"rect","fill":{"gradient":"linear","x1":0,"y1":0,"x2":1,"y2":0,"stops":[{"offset":0,"color":"#00008f"},{"offset":0.125,"color":"#0000ff"},{"offset":0.375,"color":"#00ffff"},{"offset":0.5,"color":"#80ff80"},{"offset":0.625,"color":"#ffff00"},{"offset":0.875,"color":"#ff0000"},{"offset":1,"color":"#800000"}]}},"encoding":{"x":{"datum":4.64,"type":"quantitative","scale":{"domain":[0,40]},"axis":null},"x2":{"datum":37.09},"y":{"datum":6.279,"type":"quantitative","scale":{"domain":[0,6],"reverse":true},"axis":null},"y2":{"datum":6.929}}},
{"data":{"name":"labels"},"transform":[{"filter":"datum.p==='a'"}],"mark":{"type":"rule","color":"#a8a8a8","strokeWidth":1},"encoding":{"x":{"datum":-0.31,"type":"quantitative","scale":{"domain":[0,40]},"axis":null},"x2":{"datum":41.8},"y":{"datum":7.113,"type":"quantitative","scale":{"domain":[0,6],"reverse":true},"axis":null}}},
{"data":{"name":"labels"},"transform":[{"filter":"datum.p==='a'"}],"mark":{"type":"text","font":"Liberation Serif","fontSize":21,"baseline":"alphabetic","align":"center","color":"#1a1a1a"},"encoding":{"x":{"datum":4.13,"type":"quantitative","scale":{"domain":[0,40]},"axis":null},"y":{"datum":7.701,"type":"quantitative","scale":{"domain":[0,6],"reverse":true},"axis":null},"text":{"field":"lo"}}},
{"data":{"name":"labels"},"transform":[{"filter":"datum.p==='a'"}],"mark":{"type":"text","font":"Liberation Serif, Noto Sans CJK JP","fontSize":21,"baseline":"alphabetic","align":"center","color":"#1a1a1a"},"encoding":{"x":{"datum":20.5,"type":"quantitative","scale":{"domain":[0,40]},"axis":null},"y":{"datum":7.701,"type":"quantitative","scale":{"domain":[0,6],"reverse":true},"axis":null},"text":{"field":"u"}}},
{"data":{"name":"labels"},"transform":[{"filter":"datum.p==='a'"}],"mark":{"type":"text","font":"Liberation Serif","fontSize":21,"baseline":"alphabetic","align":"center","color":"#1a1a1a"},"encoding":{"x":{"datum":36.15,"type":"quantitative","scale":{"domain":[0,40]},"axis":null},"y":{"datum":7.701,"type":"quantitative","scale":{"domain":[0,6],"reverse":true},"axis":null},"text":{"field":"hi"}}},
{"data":{"name":"labels"},"transform":[{"filter":"datum.p==='a'"}],"mark":{"type":"text","font":"Liberation Serif","fontSize":27,"baseline":"alphabetic","align":"center","color":"#111111"},"encoding":{"x":{"datum":20,"type":"quantitative","scale":{"domain":[0,40]},"axis":null},"y":{"datum":9.402,"type":"quantitative","scale":{"domain":[0,6],"reverse":true},"axis":null},"text":{"field":"cap"}}}
]},
{"width":509,"height":194,"layer":[
{"data":{"name":"cb"},"mark":{"type":"rect","strokeWidth":0.6},"encoding":{"x":{"field":"i","type":"quantitative","bin":{"extent":[0,40],"step":1},"scale":{"domain":[0,40]},"axis":null},"y":{"field":"j","type":"quantitative","bin":{"extent":[0,6],"step":1},"scale":{"domain":[0,6],"reverse":true},"axis":null},"color":{"field":"t","type":"quantitative","scale":{"type":"linear","domain":[0,0.125,0.25,0.375,0.5,0.625,0.75,0.875,1],"range":["#000078","#0008b4","#0070c4","#00c4b8","#5cc874","#c8c800","#d27a00","#cc1400","#8a0000"],"interpolate":"rgb"},"legend":null},"stroke":{"field":"t","type":"quantitative","scale":{"type":"linear","domain":[0,0.125,0.25,0.375,0.5,0.625,0.75,0.875,1],"range":["#000078","#0008b4","#0070c4","#00c4b8","#5cc874","#c8c800","#d27a00","#cc1400","#8a0000"],"interpolate":"rgb"},"legend":null}}},
{"data":{"name":"lb"},"transform":[{"filter":"datum.l!==3"}],"mark":{"type":"line","interpolate":"cardinal","color":"#000000","strokeWidth":1,"opacity":0.45},"encoding":{"x":{"field":"x","type":"quantitative","scale":{"domain":[0,40]},"axis":null},"y":{"field":"y","type":"quantitative","scale":{"domain":[0,6],"reverse":true},"axis":null},"detail":{"field":"l","type":"nominal"},"order":{"field":"y","type":"quantitative"}}},
{"data":{"name":"lb"},"transform":[{"filter":"datum.l===3"}],"mark":{"type":"line","interpolate":"cardinal","color":"#000000","strokeWidth":1.2,"opacity":0.5,"strokeDash":[2,2]},"encoding":{"x":{"field":"x","type":"quantitative","scale":{"domain":[0,40]},"axis":null},"y":{"field":"y","type":"quantitative","scale":{"domain":[0,6],"reverse":true},"axis":null},"detail":{"field":"l","type":"nominal"},"order":{"field":"y","type":"quantitative"}}},
{"data":{"name":"labels"},"transform":[{"filter":"datum.p==='b'"}],"mark":{"type":"rect","fill":{"gradient":"linear","x1":0,"y1":0,"x2":1,"y2":0,"stops":[{"offset":0,"color":"#00008f"},{"offset":0.125,"color":"#0000ff"},{"offset":0.375,"color":"#00ffff"},{"offset":0.5,"color":"#80ff80"},{"offset":0.625,"color":"#ffff00"},{"offset":0.875,"color":"#ff0000"},{"offset":1,"color":"#800000"}]}},"encoding":{"x":{"datum":4.4,"type":"quantitative","scale":{"domain":[0,40]},"axis":null},"x2":{"datum":36.86},"y":{"datum":6.279,"type":"quantitative","scale":{"domain":[0,6],"reverse":true},"axis":null},"y2":{"datum":6.929}}},
{"data":{"name":"labels"},"transform":[{"filter":"datum.p==='b'"}],"mark":{"type":"rule","color":"#a8a8a8","strokeWidth":1},"encoding":{"x":{"datum":-1.81,"type":"quantitative","scale":{"domain":[0,40]},"axis":null},"x2":{"datum":40.24},"y":{"datum":7.113,"type":"quantitative","scale":{"domain":[0,6],"reverse":true},"axis":null}}},
{"data":{"name":"labels"},"transform":[{"filter":"datum.p==='b'"}],"mark":{"type":"text","font":"Liberation Serif","fontSize":21,"baseline":"alphabetic","align":"center","color":"#1a1a1a"},"encoding":{"x":{"datum":4.79,"type":"quantitative","scale":{"domain":[0,40]},"axis":null},"y":{"datum":7.701,"type":"quantitative","scale":{"domain":[0,6],"reverse":true},"axis":null},"text":{"field":"lo"}}},
{"data":{"name":"labels"},"transform":[{"filter":"datum.p==='b'"}],"mark":{"type":"text","font":"Liberation Serif, Noto Sans CJK JP","fontSize":21,"baseline":"alphabetic","align":"center","color":"#1a1a1a"},"encoding":{"x":{"datum":20.98,"type":"quantitative","scale":{"domain":[0,40]},"axis":null},"y":{"datum":7.701,"type":"quantitative","scale":{"domain":[0,6],"reverse":true},"axis":null},"text":{"field":"u"}}},
{"data":{"name":"labels"},"transform":[{"filter":"datum.p==='b'"}],"mark":{"type":"text","font":"Liberation Serif","fontSize":21,"baseline":"alphabetic","align":"center","color":"#1a1a1a"},"encoding":{"x":{"datum":37.05,"type":"quantitative","scale":{"domain":[0,40]},"axis":null},"y":{"datum":7.701,"type":"quantitative","scale":{"domain":[0,6],"reverse":true},"axis":null},"text":{"field":"hi"}}},
{"data":{"name":"labels"},"transform":[{"filter":"datum.p==='b'"}],"mark":{"type":"text","font":"Liberation Serif","fontSize":27,"baseline":"alphabetic","align":"center","color":"#111111"},"encoding":{"x":{"datum":19.8,"type":"quantitative","scale":{"domain":[0,40]},"axis":null},"y":{"datum":9.402,"type":"quantitative","scale":{"domain":[0,6],"reverse":true},"axis":null},"text":{"field":"cap"}}}
]},
{"width":509,"height":194,"layer":[
{"data":{"name":"cc"},"mark":{"type":"rect","strokeWidth":0.6},"encoding":{"x":{"field":"i","type":"quantitative","bin":{"extent":[0,40],"step":1},"scale":{"domain":[0,40]},"axis":null},"y":{"field":"j","type":"quantitative","bin":{"extent":[0,6],"step":1},"scale":{"domain":[0,6],"reverse":true},"axis":null},"color":{"field":"t","type":"quantitative","scale":{"type":"linear","domain":[0,0.125,0.25,0.375,0.5,0.625,0.75,0.875,1],"range":["#000078","#0008b4","#0070c4","#00c4b8","#5cc874","#c8c800","#d27a00","#cc1400","#8a0000"],"interpolate":"rgb"},"legend":null},"stroke":{"field":"t","type":"quantitative","scale":{"type":"linear","domain":[0,0.125,0.25,0.375,0.5,0.625,0.75,0.875,1],"range":["#000078","#0008b4","#0070c4","#00c4b8","#5cc874","#c8c800","#d27a00","#cc1400","#8a0000"],"interpolate":"rgb"},"legend":null}}},
{"data":{"name":"lc"},"transform":[{"filter":"datum.l!==3 && datum.l!==4"}],"mark":{"type":"line","interpolate":"cardinal","color":"#000000","strokeWidth":1,"opacity":0.45},"encoding":{"x":{"field":"x","type":"quantitative","scale":{"domain":[0,40]},"axis":null},"y":{"field":"y","type":"quantitative","scale":{"domain":[0,6],"reverse":true},"axis":null},"detail":{"field":"l","type":"nominal"},"order":{"field":"y","type":"quantitative"}}},
{"data":{"name":"lc"},"transform":[{"filter":"datum.l===3 || datum.l===4"}],"mark":{"type":"line","interpolate":"cardinal","color":"#000000","strokeWidth":1.2,"opacity":0.5,"strokeDash":[2,2]},"encoding":{"x":{"field":"x","type":"quantitative","scale":{"domain":[0,40]},"axis":null},"y":{"field":"y","type":"quantitative","scale":{"domain":[0,6],"reverse":true},"axis":null},"detail":{"field":"l","type":"nominal"},"order":{"field":"y","type":"quantitative"}}},
{"data":{"name":"labels"},"transform":[{"filter":"datum.p==='c'"}],"mark":{"type":"rect","fill":{"gradient":"linear","x1":0,"y1":0,"x2":1,"y2":0,"stops":[{"offset":0,"color":"#00008f"},{"offset":0.125,"color":"#0000ff"},{"offset":0.375,"color":"#00ffff"},{"offset":0.5,"color":"#80ff80"},{"offset":0.625,"color":"#ffff00"},{"offset":0.875,"color":"#ff0000"},{"offset":1,"color":"#800000"}]}},"encoding":{"x":{"datum":4.64,"type":"quantitative","scale":{"domain":[0,40]},"axis":null},"x2":{"datum":37.09},"y":{"datum":6.279,"type":"quantitative","scale":{"domain":[0,6],"reverse":true},"axis":null},"y2":{"datum":6.929}}},
{"data":{"name":"labels"},"transform":[{"filter":"datum.p==='c'"}],"mark":{"type":"rule","color":"#a8a8a8","strokeWidth":1},"encoding":{"x":{"datum":-0.31,"type":"quantitative","scale":{"domain":[0,40]},"axis":null},"x2":{"datum":41.8},"y":{"datum":7.113,"type":"quantitative","scale":{"domain":[0,6],"reverse":true},"axis":null}}},
{"data":{"name":"labels"},"transform":[{"filter":"datum.p==='c'"}],"mark":{"type":"text","font":"Liberation Serif","fontSize":21,"baseline":"alphabetic","align":"center","color":"#1a1a1a"},"encoding":{"x":{"datum":4.13,"type":"quantitative","scale":{"domain":[0,40]},"axis":null},"y":{"datum":7.701,"type":"quantitative","scale":{"domain":[0,6],"reverse":true},"axis":null},"text":{"field":"lo"}}},
{"data":{"name":"labels"},"transform":[{"filter":"datum.p==='c'"}],"mark":{"type":"text","font":"Liberation Serif, Noto Sans CJK JP","fontSize":21,"baseline":"alphabetic","align":"center","color":"#1a1a1a"},"encoding":{"x":{"datum":20.5,"type":"quantitative","scale":{"domain":[0,40]},"axis":null},"y":{"datum":7.701,"type":"quantitative","scale":{"domain":[0,6],"reverse":true},"axis":null},"text":{"field":"u"}}},
{"data":{"name":"labels"},"transform":[{"filter":"datum.p==='c'"}],"mark":{"type":"text","font":"Liberation Serif","fontSize":21,"baseline":"alphabetic","align":"center","color":"#1a1a1a"},"encoding":{"x":{"datum":36.15,"type":"quantitative","scale":{"domain":[0,40]},"axis":null},"y":{"datum":7.701,"type":"quantitative","scale":{"domain":[0,6],"reverse":true},"axis":null},"text":{"field":"hi"}}},
{"data":{"name":"labels"},"transform":[{"filter":"datum.p==='c'"}],"mark":{"type":"text","font":"Liberation Serif","fontSize":27,"baseline":"alphabetic","align":"center","color":"#111111"},"encoding":{"x":{"datum":20,"type":"quantitative","scale":{"domain":[0,40]},"axis":null},"y":{"datum":8.938,"type":"quantitative","scale":{"domain":[0,6],"reverse":true},"axis":null},"text":{"field":"cap"}}}
]},
{"width":509,"height":194,"layer":[
{"data":{"name":"cd"},"mark":{"type":"rect","strokeWidth":0.6},"encoding":{"x":{"field":"i","type":"quantitative","bin":{"extent":[0,40],"step":1},"scale":{"domain":[0,40]},"axis":null},"y":{"field":"j","type":"quantitative","bin":{"extent":[0,6],"step":1},"scale":{"domain":[0,6],"reverse":true},"axis":null},"color":{"field":"t","type":"quantitative","scale":{"type":"linear","domain":[0,0.125,0.25,0.375,0.5,0.625,0.75,0.875,1],"range":["#000078","#0008b4","#0070c4","#00c4b8","#5cc874","#c8c800","#d27a00","#cc1400","#8a0000"],"interpolate":"rgb"},"legend":null},"stroke":{"field":"t","type":"quantitative","scale":{"type":"linear","domain":[0,0.125,0.25,0.375,0.5,0.625,0.75,0.875,1],"range":["#000078","#0008b4","#0070c4","#00c4b8","#5cc874","#c8c800","#d27a00","#cc1400","#8a0000"],"interpolate":"rgb"},"legend":null}}},
{"data":{"name":"ld"},"transform":[{"filter":"datum.l!==3"}],"mark":{"type":"line","interpolate":"cardinal","color":"#000000","strokeWidth":1,"opacity":0.45},"encoding":{"x":{"field":"x","type":"quantitative","scale":{"domain":[0,40]},"axis":null},"y":{"field":"y","type":"quantitative","scale":{"domain":[0,6],"reverse":true},"axis":null},"detail":{"field":"l","type":"nominal"},"order":{"field":"y","type":"quantitative"}}},
{"data":{"name":"ld"},"transform":[{"filter":"datum.l===3"}],"mark":{"type":"line","interpolate":"cardinal","color":"#000000","strokeWidth":1.2,"opacity":0.5,"strokeDash":[2,2]},"encoding":{"x":{"field":"x","type":"quantitative","scale":{"domain":[0,40]},"axis":null},"y":{"field":"y","type":"quantitative","scale":{"domain":[0,6],"reverse":true},"axis":null},"detail":{"field":"l","type":"nominal"},"order":{"field":"y","type":"quantitative"}}},
{"data":{"name":"labels"},"transform":[{"filter":"datum.p==='d'"}],"mark":{"type":"rect","fill":{"gradient":"linear","x1":0,"y1":0,"x2":1,"y2":0,"stops":[{"offset":0,"color":"#00008f"},{"offset":0.125,"color":"#0000ff"},{"offset":0.375,"color":"#00ffff"},{"offset":0.5,"color":"#80ff80"},{"offset":0.625,"color":"#ffff00"},{"offset":0.875,"color":"#ff0000"},{"offset":1,"color":"#800000"}]}},"encoding":{"x":{"datum":4.4,"type":"quantitative","scale":{"domain":[0,40]},"axis":null},"x2":{"datum":36.86},"y":{"datum":6.279,"type":"quantitative","scale":{"domain":[0,6],"reverse":true},"axis":null},"y2":{"datum":6.929}}},
{"data":{"name":"labels"},"transform":[{"filter":"datum.p==='d'"}],"mark":{"type":"rule","color":"#a8a8a8","strokeWidth":1},"encoding":{"x":{"datum":-1.81,"type":"quantitative","scale":{"domain":[0,40]},"axis":null},"x2":{"datum":40.24},"y":{"datum":7.113,"type":"quantitative","scale":{"domain":[0,6],"reverse":true},"axis":null}}},
{"data":{"name":"labels"},"transform":[{"filter":"datum.p==='d'"}],"mark":{"type":"text","font":"Liberation Serif","fontSize":21,"baseline":"alphabetic","align":"center","color":"#1a1a1a"},"encoding":{"x":{"datum":4.64,"type":"quantitative","scale":{"domain":[0,40]},"axis":null},"y":{"datum":7.701,"type":"quantitative","scale":{"domain":[0,6],"reverse":true},"axis":null},"text":{"field":"lo"}}},
{"data":{"name":"labels"},"transform":[{"filter":"datum.p==='d'"}],"mark":{"type":"text","font":"Liberation Serif, Noto Sans CJK JP","fontSize":21,"baseline":"alphabetic","align":"center","color":"#1a1a1a"},"encoding":{"x":{"datum":20.7,"type":"quantitative","scale":{"domain":[0,40]},"axis":null},"y":{"datum":7.701,"type":"quantitative","scale":{"domain":[0,6],"reverse":true},"axis":null},"text":{"field":"u"}}},
{"data":{"name":"labels"},"transform":[{"filter":"datum.p==='d'"}],"mark":{"type":"text","font":"Liberation Serif","fontSize":21,"baseline":"alphabetic","align":"center","color":"#1a1a1a"},"encoding":{"x":{"datum":36.86,"type":"quantitative","scale":{"domain":[0,40]},"axis":null},"y":{"datum":7.701,"type":"quantitative","scale":{"domain":[0,6],"reverse":true},"axis":null},"text":{"field":"hi"}}},
{"data":{"name":"labels"},"transform":[{"filter":"datum.p==='d'"}],"mark":{"type":"text","font":"Liberation Serif","fontSize":27,"baseline":"alphabetic","align":"center","color":"#111111"},"encoding":{"x":{"datum":19.8,"type":"quantitative","scale":{"domain":[0,40]},"axis":null},"y":{"datum":8.938,"type":"quantitative","scale":{"domain":[0,6],"reverse":true},"axis":null},"text":{"field":"cap"}}}
]}
]}
